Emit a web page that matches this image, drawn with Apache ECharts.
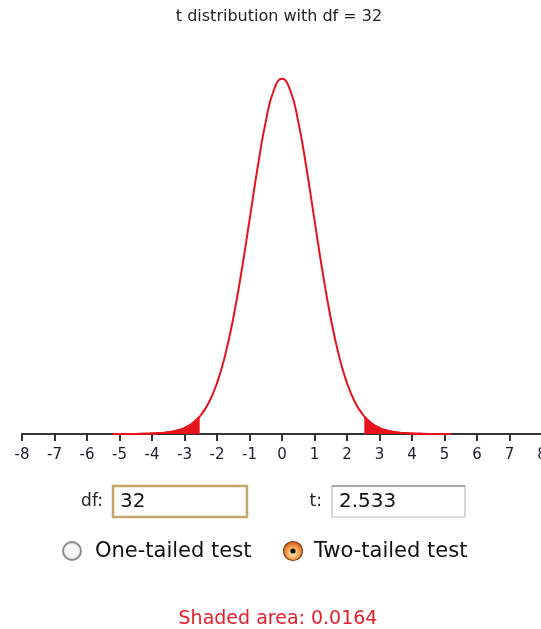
<!DOCTYPE html>
<html>
<head>
<meta charset="utf-8">
<script src="https://cdn.jsdelivr.net/npm/echarts@6/dist/echarts.min.js"></script>
<style>
  html, body { margin: 0; padding: 0; background: #fff; }
  #chart { width: 541px; height: 629px; }
</style>
</head>
<body>
<div id="chart"></div>
<script>
// Density curve of the t distribution (df = 32)
var curveX = [-5.2, -5, -4.75, -4.5, -4.25, -4, -3.75, -3.5, -3.25, -3, -2.75, -2.5, -2.25, -2, -1.75, -1.5, -1.25, -1, -0.75, -0.5, -0.25, 0,
              0.25, 0.5, 0.75, 1, 1.25, 1.5, 1.75, 2, 2.25, 2.5, 2.75, 3, 3.25, 3.5, 3.75, 4, 4.25, 4.5, 4.75, 5, 5.2];
var curveY = [0.0000, 0.0000, 0.0001, 0.0001, 0.0002, 0.0005, 0.0010, 0.0019, 0.0036, 0.0066, 0.0120, 0.0209, 0.0351, 0.0567, 0.0876, 0.1290, 0.1802, 0.2382, 0.2969, 0.3481, 0.3833, 0.3958,
              0.3833, 0.3481, 0.2969, 0.2382, 0.1802, 0.1290, 0.0876, 0.0567, 0.0351, 0.0209, 0.0120, 0.0066, 0.0036, 0.0019, 0.0010, 0.0005, 0.0002, 0.0001, 0.0001, 0.0000, 0.0000];

// Shaded tails beyond |t| = 2.533
var leftTailX = [-5.2, -5, -4.75, -4.5, -4.25, -4, -3.75, -3.5, -3.25, -3, -2.75, -2.533];
var leftTailY = [0.0000, 0.0000, 0.0001, 0.0001, 0.0002, 0.0005, 0.0010, 0.0019, 0.0036, 0.0066, 0.0120, 0.0194];
var rightTailX = [2.533, 2.75, 3, 3.25, 3.5, 3.75, 4, 4.25, 4.5, 4.75, 5, 5.2];
var rightTailY = [0.0194, 0.0120, 0.0066, 0.0036, 0.0019, 0.0010, 0.0005, 0.0002, 0.0001, 0.0001, 0.0000, 0.0000];

var tickLabels = ['-8', '-7', '-6', '-5', '-4', '-3', '-2', '-1', '0', '1', '2', '3', '4', '5', '6', '7', '8'];

var titleText = 't distribution with df = 32';
var dfValue = '32';
var tValue = '2.533';
var shadedText = 'Shaded area: 0.0164';

function pairs(xs, ys) {
  return xs.map(function (x, i) { return [x, ys[i]]; });
}

var RED = '#e8121c';
var FONT = '"DejaVu Sans", "Liberation Sans", sans-serif';

var chart = echarts.init(document.getElementById('chart'), null, { renderer: 'canvas' });

chart.setOption({
  animation: false,
  backgroundColor: '#ffffff',
  grid: { left: 22, width: 520, top: 75, bottom: 195, containLabel: false, outerBoundsMode: 'none' },
  xAxis: {
    type: 'value',
    min: -8,
    max: 8,
    interval: 1,
    axisLine: { show: true, lineStyle: { color: '#333', width: 2 } },
    axisTick: { show: true, length: 7, lineStyle: { color: '#333', width: 2 } },
    axisLabel: {
      margin: 14,
      fontSize: 15,
      fontFamily: FONT,
      color: '#1c1c2a',
      showMinLabel: true,
      showMaxLabel: true,
      hideOverlap: false,
      formatter: function (v) { return tickLabels[Math.round(v) + 8]; }
    },
    splitLine: { show: false }
  },
  yAxis: {
    type: 'value',
    min: 0,
    max: 0.40,
    show: false,
    splitLine: { show: false }
  },
  series: [
    {
      type: 'line',
      data: pairs(leftTailX, leftTailY),
      smooth: true,
      showSymbol: false,
      lineStyle: { color: RED, width: 2 },
      areaStyle: { color: RED, opacity: 1 },
      z: 3
    },
    {
      type: 'line',
      data: pairs(rightTailX, rightTailY),
      smooth: true,
      showSymbol: false,
      lineStyle: { color: RED, width: 2 },
      areaStyle: { color: RED, opacity: 1 },
      z: 3
    },
    {
      type: 'line',
      data: pairs(curveX, curveY),
      smooth: true,
      showSymbol: false,
      lineStyle: { color: RED, width: 2 },
      z: 4
    }
  ],
  graphic: [
    {
      type: 'text', x: 279, y: 17,
      style: { text: titleText, font: '16px ' + FONT, fill: '#222', textAlign: 'center', textVerticalAlign: 'middle' }
    },
    // df input
    {
      type: 'text', x: 103, y: 502,
      style: { text: 'df:', font: '17px ' + FONT, fill: '#222', textAlign: 'right', textVerticalAlign: 'middle' }
    },
    {
      type: 'rect', shape: { x: 113, y: 486, width: 134, height: 31 },
      style: { fill: '#fff', stroke: '#c4a66a', lineWidth: 2.5 }
    },
    {
      type: 'text', x: 120, y: 502,
      style: { text: dfValue, font: '20px ' + FONT, fill: '#111', textVerticalAlign: 'middle' }
    },
    // t input
    {
      type: 'text', x: 322, y: 502,
      style: { text: 't:', font: '17px ' + FONT, fill: '#222', textAlign: 'right', textVerticalAlign: 'middle' }
    },
    {
      type: 'rect', shape: { x: 332, y: 486, width: 133, height: 31 },
      style: { fill: '#fff', stroke: '#bdbdbd', lineWidth: 1.2 }
    },
    {
      type: 'line', shape: { x1: 332, y1: 486, x2: 465, y2: 486 },
      style: { stroke: '#777', lineWidth: 1.2 }
    },
    {
      type: 'text', x: 339, y: 502,
      style: { text: tValue, font: '20px ' + FONT, fill: '#111', textVerticalAlign: 'middle' }
    },
    // one-tailed radio (unselected)
    {
      type: 'circle', shape: { cx: 72, cy: 551, r: 9 },
      style: {
        fill: {
          type: 'radial', x: 0.5, y: 0.5, r: 0.5,
          colorStops: [{ offset: 0, color: '#ffffff' }, { offset: 0.7, color: '#f2f2f2' }, { offset: 1, color: '#bdbdbd' }]
        },
        stroke: '#8a8a8a', lineWidth: 1.8
      }
    },
    {
      type: 'text', x: 95, y: 552,
      style: { text: 'One-tailed test', font: '21px ' + FONT, fill: '#111', textVerticalAlign: 'middle' }
    },
    // two-tailed radio (selected)
    {
      type: 'circle', shape: { cx: 293, cy: 551, r: 9.5 },
      style: {
        fill: {
          type: 'radial', x: 0.5, y: 0.6, r: 0.6,
          colorStops: [{ offset: 0, color: '#fff2c8' }, { offset: 0.5, color: '#f5a650' }, { offset: 1, color: '#c84a10' }]
        },
        stroke: '#8a3a10', lineWidth: 1.2
      }
    },
    {
      type: 'circle', shape: { cx: 293, cy: 551, r: 2.6 },
      style: { fill: '#111' }
    },
    {
      type: 'text', x: 314, y: 552,
      style: { text: 'Two-tailed test', font: '21px ' + FONT, fill: '#111', textVerticalAlign: 'middle' }
    },
    {
      type: 'text', x: 278, y: 619,
      style: { text: shadedText, font: '19px ' + FONT, fill: '#e4202c', textAlign: 'center', textVerticalAlign: 'middle' }
    }
  ]
});
</script>
</body>
</html>
